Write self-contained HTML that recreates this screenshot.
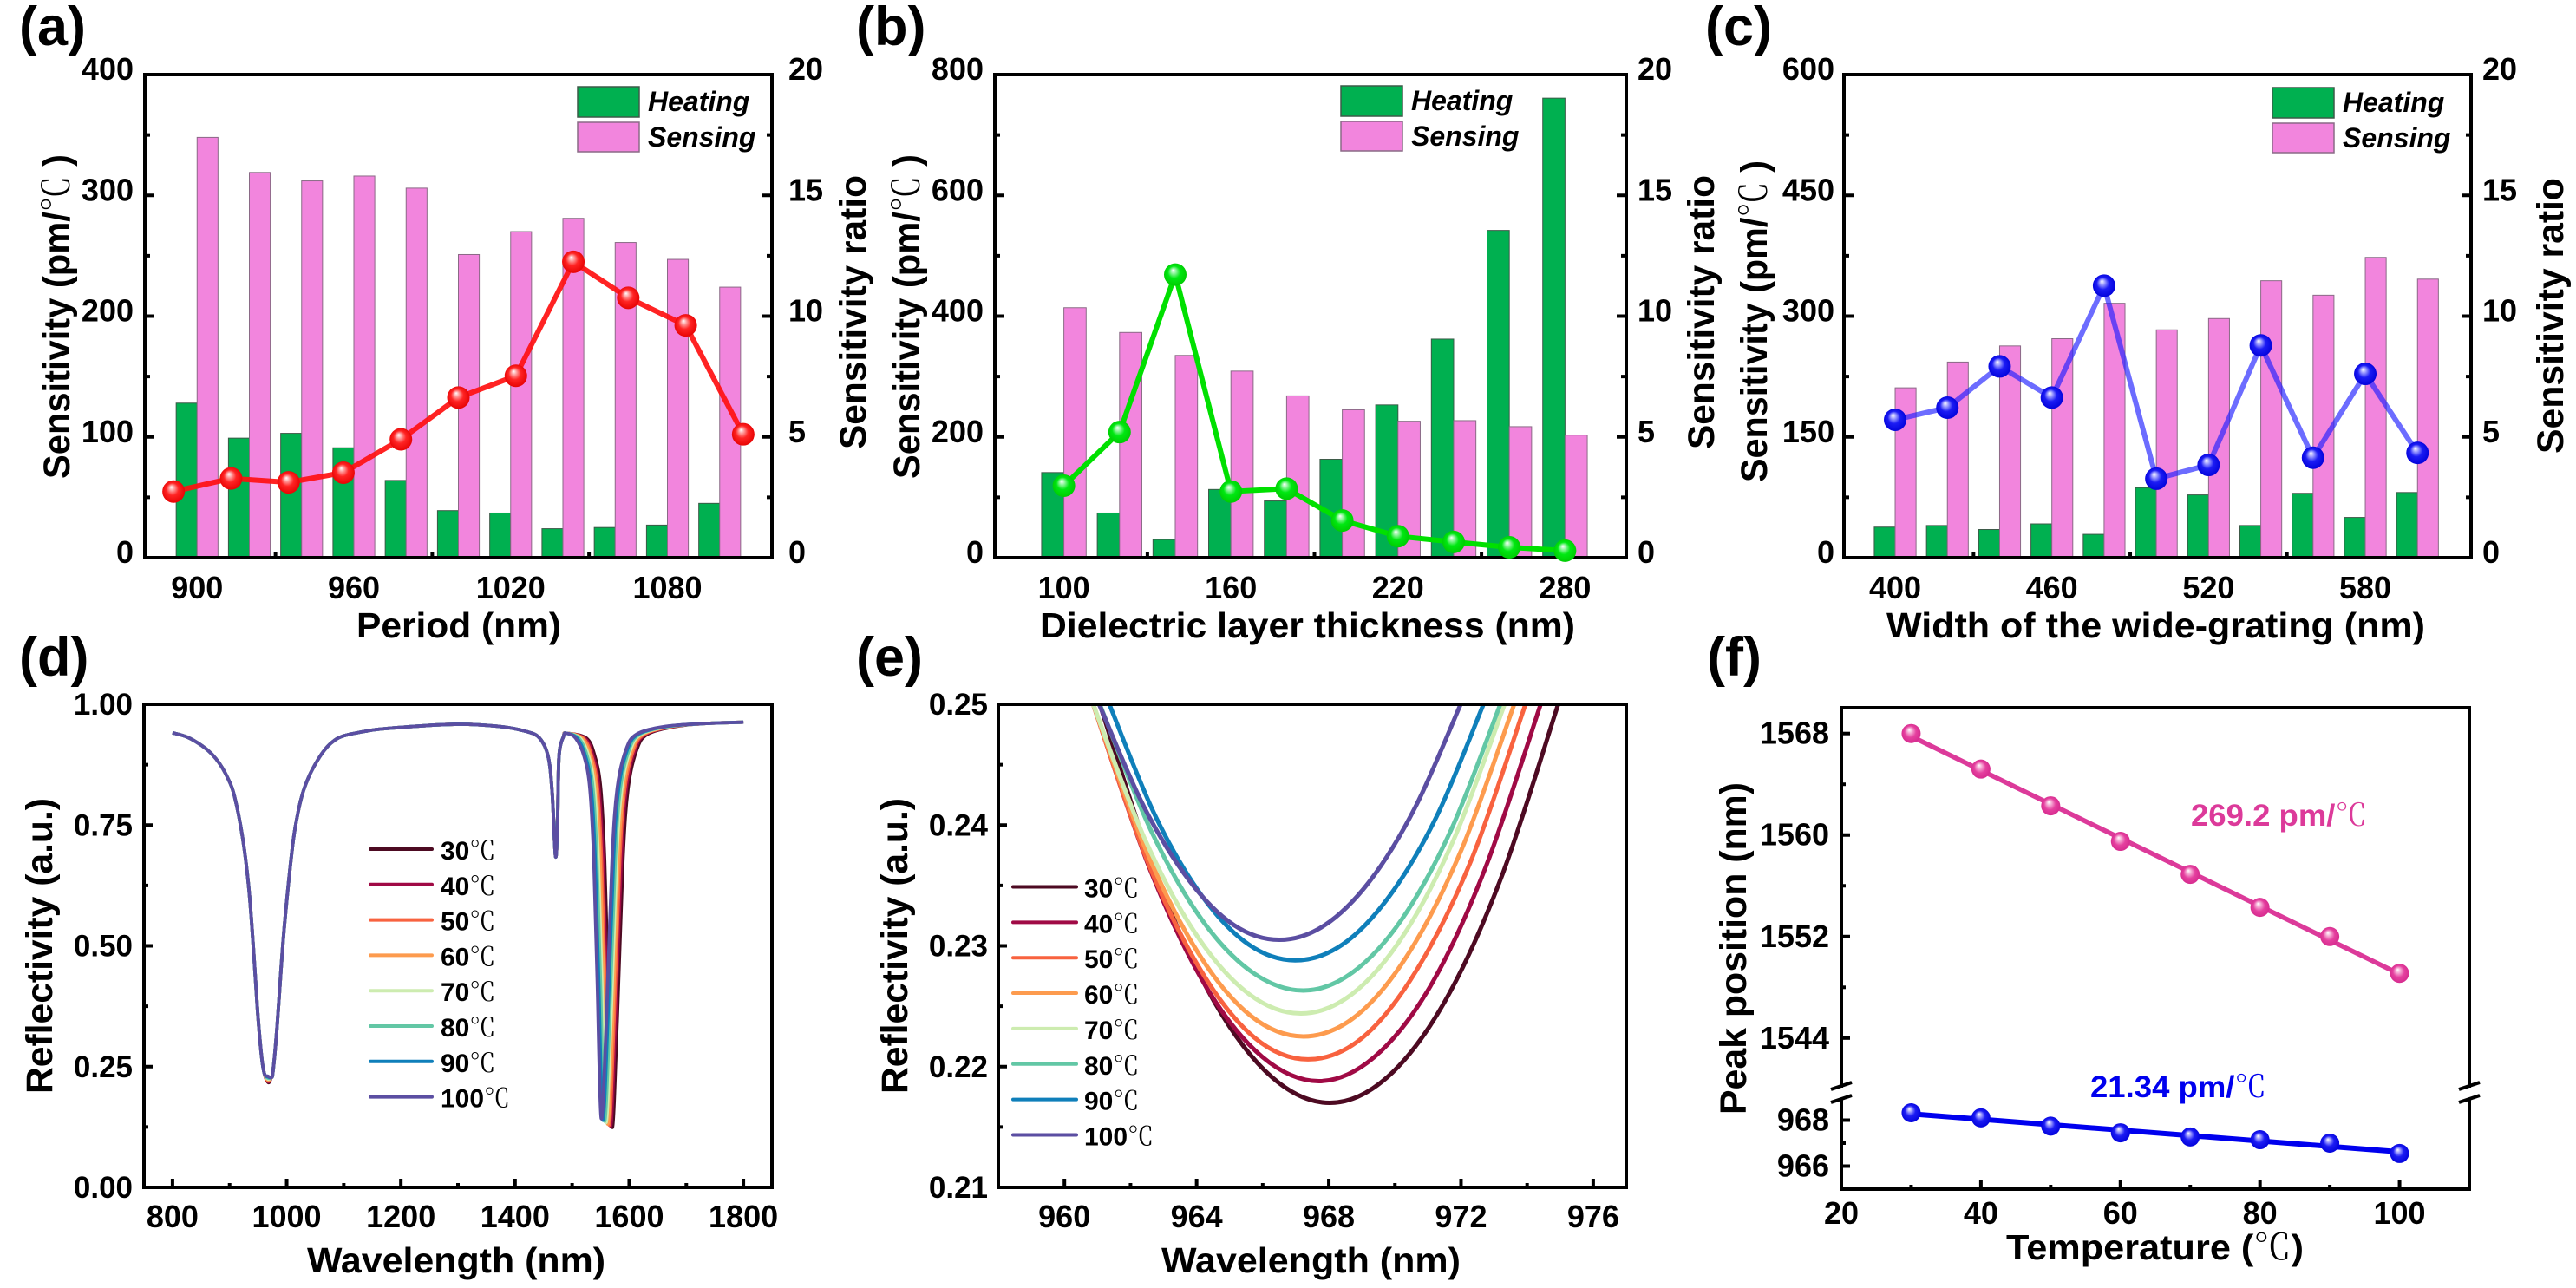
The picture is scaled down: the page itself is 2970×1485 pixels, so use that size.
<!DOCTYPE html>
<html lang="en">
<head>
<meta charset="utf-8">
<title>Sensitivity and reflectivity figure</title>
<style>
html,body{margin:0;padding:0;background:#fff;}
svg{display:block;font-family:"Liberation Sans","Noto Sans CJK SC",sans-serif;font-weight:700;fill:#000;}
.deg{font-weight:400;font-family:"Noto Serif CJK SC","Noto Sans CJK SC",serif;}
.panel-label{font-size:63px;}
.axis-title{font-size:43px;}
.x-title{font-size:41px;}
.legend-text{font-size:32px;font-style:italic;}
</style>
</head>
<body>
<svg id="figure" xmlns="http://www.w3.org/2000/svg" width="2970" height="1485" viewBox="0 0 2970 1485">
<defs>
<radialGradient id="ball-red" cx="50%" cy="50%" r="55%" fx="40%" fy="30%"><stop offset="0" stop-color="#fff"/><stop offset=".22" stop-color="#ff9a9a"/><stop offset=".5" stop-color="#ff2424"/><stop offset="1" stop-color="#e40000"/></radialGradient>
<radialGradient id="ball-green" cx="50%" cy="50%" r="55%" fx="40%" fy="30%"><stop offset="0" stop-color="#fff"/><stop offset=".22" stop-color="#8cf59a"/><stop offset=".5" stop-color="#00e812"/><stop offset="1" stop-color="#00c800"/></radialGradient>
<radialGradient id="ball-blue" cx="50%" cy="50%" r="55%" fx="40%" fy="30%"><stop offset="0" stop-color="#fff"/><stop offset=".22" stop-color="#9a9aff"/><stop offset=".5" stop-color="#1c1cf4"/><stop offset="1" stop-color="#0000d8"/></radialGradient>
<radialGradient id="ball-pink" cx="50%" cy="50%" r="55%" fx="40%" fy="30%"><stop offset="0" stop-color="#fff"/><stop offset=".25" stop-color="#f5a6d2"/><stop offset=".55" stop-color="#e5409f"/><stop offset="1" stop-color="#d4288c"/></radialGradient>
<clipPath id="clip-d"><rect x="166" y="812" width="724" height="557"/></clipPath>
<clipPath id="clip-e"><rect x="1151" y="812" width="724" height="557"/></clipPath>
</defs>

<text class="panel-label" x="22" y="52">(a)</text>
<text class="panel-label" x="987" y="52">(b)</text>
<text class="panel-label" x="1966" y="52">(c)</text>
<text class="panel-label" x="22" y="779">(d)</text>
<text class="panel-label" x="987" y="779">(e)</text>
<text class="panel-label" x="1968" y="779">(f)</text>

<text class="axis-title" transform="translate(80 552) rotate(-90)" textLength="374" lengthAdjust="spacingAndGlyphs">Sensitivity (pm/<tspan class="deg">℃ </tspan>)</text>
<text class="axis-title" transform="translate(998 518) rotate(-90)" textLength="316" lengthAdjust="spacingAndGlyphs">Sensitivity ratio</text>
<text class="x-title" x="411" y="735" textLength="236" lengthAdjust="spacingAndGlyphs">Period (nm)</text>

<text class="axis-title" transform="translate(1060 552) rotate(-90)" textLength="374" lengthAdjust="spacingAndGlyphs">Sensitivity (pm/<tspan class="deg">℃ </tspan>)</text>
<text class="axis-title" transform="translate(1976 518) rotate(-90)" textLength="316" lengthAdjust="spacingAndGlyphs">Sensitivity ratio</text>
<text class="x-title" x="1199" y="735" textLength="617" lengthAdjust="spacingAndGlyphs">Dielectric layer thickness (nm)</text>

<text class="axis-title" transform="translate(2037 556) rotate(-90)" textLength="371" lengthAdjust="spacingAndGlyphs">Sensitivity (pm/<tspan class="deg">℃ </tspan>)</text>
<text class="axis-title" transform="translate(2955 523) rotate(-90)" textLength="318" lengthAdjust="spacingAndGlyphs">Sensitivity ratio</text>
<text class="x-title" x="2175" y="735" textLength="621" lengthAdjust="spacingAndGlyphs">Width of the wide-grating (nm)</text>

<text class="axis-title" transform="translate(60 1261) rotate(-90)" textLength="341" lengthAdjust="spacingAndGlyphs">Reflectivity (a.u.)</text>
<text class="x-title" x="354" y="1467" textLength="344" lengthAdjust="spacingAndGlyphs">Wavelength (nm)</text>

<text class="axis-title" transform="translate(1046 1261) rotate(-90)" textLength="341" lengthAdjust="spacingAndGlyphs">Reflectivity (a.u.)</text>
<text class="x-title" x="1339" y="1467" textLength="345" lengthAdjust="spacingAndGlyphs">Wavelength (nm)</text>

<text class="axis-title" transform="translate(2013 1285) rotate(-90)" textLength="383" lengthAdjust="spacingAndGlyphs">Peak position (nm)</text>
<text class="x-title" x="2313" y="1452" textLength="343" lengthAdjust="spacingAndGlyphs">Temperature (<tspan class="deg">℃</tspan>)</text>
</svg>

<script>
/* ---------- panel (a) data ---------- */
const periodCategories = [900,920,940,960,980,1000,1020,1040,1060,1080,1100];
const periodHeating = [128,99,103,91,64,39,37,24,25,27,45];
const periodSensing = [348,319,312,316,306,251,270,281,261,247,224];
const periodRatioX = [891,913,935,956,978,1000,1022,1044,1065,1087,1109];
const periodRatio = [2.74,3.28,3.12,3.52,4.9,6.63,7.53,12.25,10.76,9.62,5.11];
const periodXTicks = [900,960,1020,1080];
const periodYTicks = [0,100,200,300,400];

/* ---------- panel (b) data ---------- */
const thicknessCategories = [100,120,140,160,180,200,220,240,260,280];
const thicknessHeating = [141,74,30,113,94,163,253,362,542,761];
const thicknessSensing = [414,373,335,309,268,245,226,227,217,203];
const thicknessRatio = [2.98,5.2,11.72,2.74,2.86,1.54,0.89,0.65,0.43,0.29];
const thicknessXTicks = [100,160,220,280];
const thicknessYTicks = [0,200,400,600,800];

/* ---------- panel (c) data ---------- */
const widthCategories = [400,420,440,460,480,500,520,540,560,580,600];
const widthHeating = [38,40,35,42,29,87,78,40,80,50,81];
const widthSensing = [211,243,263,272,316,283,297,344,326,373,346];
const widthRatio = [5.71,6.21,7.92,6.63,11.26,3.27,3.84,8.79,4.14,7.61,4.34];
const widthXTicks = [400,460,520,580];
const widthYTicks = [0,150,300,450,600];

const ratioTicks = [0,5,10,15,20];

/* ---------- temperature legend ---------- */
const temperatureLabels = ['30','40','50','60','70','80','90','100'];
const temperatureColors = ['#4d0a22','#a00a45','#f8623f','#fd9b4e','#cdecb0','#62c7a5','#0f7fba','#5b4ea2'];

/* ---------- panel (d) data ---------- */
const spectrumLeftWl = [800,826,852,868,882,896,908,923,934,942,949,956,961];
const spectrumLeftR = [.941,.932,.914,.898,.878,.849,.812,.722,.615,.49,.365,.271,.235];
const spectrumRightWl = [973,976,983,990,997,1010,1018,1027,1038,1050,1064,1079,1098,1137,1176,1293,1370,1419,1443,1458,1465,1471,1474.5,1477,1485,1490];
const spectrumRightR = [.228,.24,.33,.45,.555,.704,.765,.812,.848,.876,.902,.921,.934,.944,.95,.9586,.9545,.944,.93,.892,.818,.685,.76,.892,.934,.94];
const firstDipWl = [968,967.7,967.4,967.2,967.2,967.2,967,966.5];
const firstDipMin = [.217,.2188,.2206,.2225,.2244,.2263,.2288,.2305];
const secondDipWl = [1570,1567,1564.5,1562,1559,1556.5,1553.5,1551];
const secondDipMin = [.125,.128,.13,.132,.135,.138,.14,.143];
const secondDipOffsets = [-45,-30,-20,-13,-7,9,19,28,43,62,111];
const secondDipR = [.93,.892,.826,.677,.429,.346,.677,.826,.905,.938,.954];
const spectrumTailWl = [1730,1800];
const spectrumTailR = [.96,.963];
const spectrumXTicks = [800,1000,1200,1400,1600,1800];
const spectrumYTicks = ['0.00','0.25','0.50','0.75','1.00'];

/* ---------- panel (e) data ---------- */
const zoomWl30 = [961.07,962.81,964.55,966.29,968.03,969.76,971.49,973.21,974.94];
const zoomR30 = [.25,.2356,.2253,.2191,.2170,.2191,.2253,.2356,.25];
const zoomWl40 = [960.87,962.58,964.29,965.99,967.7,969.38,971.06,972.73,974.41];
const zoomR40 = [.25,.2364,.2266,.2208,.2188,.2208,.2266,.2364,.25];
const zoomWl50 = [960.87,962.5,964.12,965.75,967.37,969.02,970.66,972.31,973.95];
const zoomR50 = [.25,.2371,.2280,.2224,.2206,.2224,.2280,.2371,.25];
const zoomWl60 = [960.87,962.46,964.05,965.64,967.23,968.83,970.42,972.02,973.61];
const zoomR60 = [.25,.2380,.2294,.2242,.2225,.2242,.2294,.2380,.25];
const zoomWl70 = [960.87,962.44,964.02,965.59,967.16,968.7,970.24,971.78,973.32];
const zoomR70 = [.25,.2388,.2308,.2260,.2244,.2260,.2308,.2388,.25];
const zoomWl80 = [961.07,962.61,964.15,965.69,967.23,968.72,970.21,971.7,973.19];
const zoomR80 = [.25,.2396,.2322,.2278,.2263,.2278,.2322,.2396,.25];
const zoomWl90 = [961.36,962.76,964.17,965.58,966.98,968.41,969.83,971.26,972.68];
const zoomR90 = [.25,.2407,.2341,.2301,.2288,.2301,.2341,.2407,.25];
const zoomWl100 = [961.05,962.41,963.78,965.14,966.5,967.87,969.25,970.62,971.99];
const zoomR100 = [.25,.2415,.2354,.2317,.2305,.2317,.2354,.2415,.25];
const zoomXTicks = [960,964,968,972,976];
const zoomYTicks = ['0.21','0.22','0.23','0.24','0.25'];

/* ---------- panel (f) data ---------- */
const peakTemperatures = [30,40,50,60,70,80,90,100];
const peakLong = [1568,1565.2,1562.3,1559.5,1556.9,1554.3,1552,1549.1];
const peakShort = [968.32,968.1,967.74,967.45,967.27,967.15,967,966.55];
const peakXTicks = [20,40,60,80,100];
const peakUpperTicks = [1544,1552,1560,1568];
const peakLowerTicks = [966,968];

/* ---------- helpers ---------- */
const NS = 'http://www.w3.org/2000/svg';
const root = document.getElementById('figure');
function el(parent, tag, attrs, text) {
  const n = document.createElementNS(NS, tag);
  for (const k in attrs) n.setAttribute(k, attrs[k]);
  if (text !== undefined) n.textContent = text;
  parent.appendChild(n);
  return n;
}
function group(name) {
  const g = el(root, 'g', {});
  
  
  return g;
}
function tick(parent, x1, y1, x2, y2, name) {
  const t = el(parent, 'line', {x1, y1, x2, y2, stroke:'#000', 'stroke-width':4});
  
  
}
function label(parent, x, y, text, anchor, size, name) {
  const t = el(parent, 'text', {x, y, 'text-anchor':anchor, 'font-size':size}, text);
  
  
  return t;
}
function frame(parent, x0, y0, x1, y1) {
  const r = el(parent, 'rect', {x:x0, y:y0, width:x1-x0, height:y1-y0, fill:'none', stroke:'#000', 'stroke-width':4});
  
  
}
function smoothPath(pts) {
  let d = 'M' + pts[0][0].toFixed(2) + ' ' + pts[0][1].toFixed(2);
  for (let i = 0; i < pts.length - 1; i++) {
    const p0 = pts[Math.max(i-1,0)], p1 = pts[i], p2 = pts[i+1], p3 = pts[Math.min(i+2,pts.length-1)];
    const c1x = p1[0] + (p2[0]-p0[0])/6, c1y = p1[1] + (p2[1]-p0[1])/6;
    const c2x = p2[0] - (p3[0]-p1[0])/6, c2y = p2[1] - (p3[1]-p1[1])/6;
    d += 'C' + c1x.toFixed(2) + ' ' + c1y.toFixed(2) + ' ' + c2x.toFixed(2) + ' ' + c2y.toFixed(2) + ' ' + p2[0].toFixed(2) + ' ' + p2[1].toFixed(2);
  }
  return d;
}

/* ---------- bar + ratio panels (a, b, c) ---------- */
function drawBarPanel(c) {
  const g = group(c.name);
  const top = 86, bottom = 643, barWidth = 8;
  const xScale = v => c.x0 + (v - c.xMin) / (c.xMax - c.xMin) * (c.x1 - c.x0);
  const yLeft = v => bottom - v / c.yMax * (bottom - top);
  const yRight = v => bottom - v / 20 * (bottom - top);

  c.yTicks.forEach((v, i) => {
    const y = yLeft(v);
    tick(g, c.x0, y, c.x0 + 11, y, 'y-tick');
    if (i < c.yTicks.length - 1) {
      const ym = (y + yLeft(c.yTicks[i+1])) / 2;
      tick(g, c.x0, ym, c.x0 + 6, ym, 'y-minor-tick');
    }
    label(g, c.leftEdge, y + 6, String(v), 'end', 36, 'y-tick-label');
  });
  ratioTicks.forEach((v, i) => {
    const y = yRight(v);
    tick(g, c.x1 - 11, y, c.x1, y, 'y2-tick');
    if (i < ratioTicks.length - 1) {
      const ym = (y + yRight(ratioTicks[i+1])) / 2;
      tick(g, c.x1 - 6, ym, c.x1, ym, 'y2-minor-tick');
    }
    label(g, c.rightEdge, y + 6, String(v), 'start', 36, 'y2-tick-label');
  });
  c.xTicks.forEach((v, i) => {
    const x = xScale(v);
    tick(g, x, bottom, x, bottom - 11, 'x-tick');
    if (i < c.xTicks.length - 1) {
      const xm = (x + xScale(c.xTicks[i+1])) / 2;
      tick(g, xm, bottom, xm, bottom - 6, 'x-minor-tick');
    }
    label(g, x, 690, String(v), 'middle', 36, 'x-tick-label');
  });

  c.categories.forEach((cat, i) => {
    const xc = xScale(cat);
    const w = xScale(cat + barWidth) - xc;
    const h = el(g, 'rect', {x:xc - w, y:yLeft(c.heating[i]), width:w, height:bottom - yLeft(c.heating[i]), fill:'#00b050', stroke:'#3c5a48', 'stroke-width':1});
    
    
    const s = el(g, 'rect', {x:xc, y:yLeft(c.sensing[i]), width:w, height:bottom - yLeft(c.sensing[i]), fill:'#f285dd', stroke:'#8a6a86', 'stroke-width':1});
    
    
  });

  frame(g, c.x0, top, c.x1, bottom);

  const pts = c.ratioX.map((v, i) => xScale(v).toFixed(2) + ',' + yRight(c.ratio[i]).toFixed(2)).join(' ');
  const line = el(g, 'polyline', {points:pts, fill:'none', stroke:c.lineColor, 'stroke-width':6, 'stroke-opacity':c.lineOpacity, 'stroke-linejoin':'round'});
  
  
  c.ratioX.forEach((v, i) => {
    const m = el(g, 'circle', {cx:xScale(v), cy:yRight(c.ratio[i]), r:13, fill:'url(#' + c.ball + ')'});
    
    
  });

  const lg = el(g, 'g', {});
  
  
  const s1 = el(lg, 'rect', {x:c.legendX, y:c.legendY, width:71, height:35, fill:'#00b050', stroke:'#3c5a48', 'stroke-width':1.5});
  
  
  const s2 = el(lg, 'rect', {x:c.legendX, y:c.legendY + 41, width:71, height:34, fill:'#f285dd', stroke:'#8a6a86', 'stroke-width':1.5});
  
  
  const t1 = el(lg, 'text', {x:c.legendX + 81, y:c.legendY + 28, class:'legend-text'}, 'Heating');
  
  
  const t2 = el(lg, 'text', {x:c.legendX + 81, y:c.legendY + 69, class:'legend-text'}, 'Sensing');
  
  
}

drawBarPanel({name:'panel-a', x0:167, x1:890, xMin:880, xMax:1120, yMax:400, leftEdge:154, rightEdge:909,
  categories:periodCategories, heating:periodHeating, sensing:periodSensing, ratioX:periodRatioX, ratio:periodRatio,
  xTicks:periodXTicks, yTicks:periodYTicks, lineColor:'#ff1010', lineOpacity:.92, ball:'ball-red', legendX:666, legendY:100});
drawBarPanel({name:'panel-b', x0:1147, x1:1875, xMin:75.2, xMax:302, yMax:800, leftEdge:1134, rightEdge:1888,
  categories:thicknessCategories, heating:thicknessHeating, sensing:thicknessSensing, ratioX:thicknessCategories, ratio:thicknessRatio,
  xTicks:thicknessXTicks, yTicks:thicknessYTicks, lineColor:'#00e000', lineOpacity:1, ball:'ball-green', legendX:1546, legendY:99});
drawBarPanel({name:'panel-c', x0:2126, x1:2849, xMin:380.4, xMax:620.5, yMax:600, leftEdge:2115, rightEdge:2862,
  categories:widthCategories, heating:widthHeating, sensing:widthSensing, ratioX:widthCategories, ratio:widthRatio,
  xTicks:widthXTicks, yTicks:widthYTicks, lineColor:'#2020ff', lineOpacity:.66, ball:'ball-blue', legendX:2620, legendY:101});

/* ---------- shared frame for line panels ---------- */
function lineAxes(g, x0, x1, xScale, yScale, xTicks, yTicks, edge) {
  yTicks.forEach((v, i) => {
    const y = yScale(parseFloat(v));
    tick(g, x0, y, x0 + 10, y, 'y-tick');
    if (i < yTicks.length - 1) {
      const ym = (y + yScale(parseFloat(yTicks[i+1]))) / 2;
      tick(g, x0, ym, x0 + 5, ym, 'y-minor-tick');
    }
    label(g, edge, y + 12, v, 'end', 35, 'y-tick-label');
  });
  xTicks.forEach((v, i) => {
    const x = xScale(v);
    tick(g, x, 1369, x, 1359, 'x-tick');
    if (i < xTicks.length - 1) {
      const xm = (x + xScale(xTicks[i+1])) / 2;
      tick(g, xm, 1369, xm, 1364, 'x-minor-tick');
    }
    label(g, x, 1415, String(v), 'middle', 36, 'x-tick-label');
  });
}
function tempLegend(g, lineX0, lineX1, textX, firstY, stepY, size) {
  temperatureLabels.forEach((t, i) => {
    const y = firstY + i * stepY;
    const l = el(g, 'line', {x1:lineX0, x2:lineX1, y1:y, y2:y, stroke:temperatureColors[i], 'stroke-width':4, 'stroke-linecap':'round'});
    
    
    const n = el(g, 'text', {x:textX, y:y + 12, 'font-size':size}, t);
    
    
    const u = el(n, 'tspan', {class:'deg'}, '℃');
    
    
  });
}

/* ---------- panel (d) ---------- */
(function () {
  const g = group('panel-d');
  const xs = v => 166 + (v - 750) / 1100 * 724;
  const ys = v => 1369 - v * 557;
  lineAxes(g, 166, 890, xs, ys, spectrumXTicks, spectrumYTicks, 153);
  const plot = el(g, 'g', {'clip-path':'url(#clip-d)'});
  
  
  temperatureColors.forEach((color, i) => {
    const pts = [];
    spectrumLeftWl.forEach((w, k) => pts.push([xs(w), ys(spectrumLeftR[k])]));
    pts.push([xs(firstDipWl[i]), ys(firstDipMin[i])]);
    spectrumRightWl.forEach((w, k) => pts.push([xs(w), ys(spectrumRightR[k])]));
    secondDipOffsets.forEach((o, k) => {
      if (k === 5) pts.push([xs(secondDipWl[i]), ys(secondDipMin[i])]);
      pts.push([xs(secondDipWl[i] + o), ys(secondDipR[k])]);
    });
    spectrumTailWl.forEach((w, k) => pts.push([xs(w), ys(spectrumTailR[k])]));
    const c = el(plot, 'path', {d:smoothPath(pts), fill:'none', stroke:color, 'stroke-width':3.8, 'stroke-linejoin':'round'});
    
    
  });
  frame(g, 166, 812, 890, 1369);
  tempLegend(g, 427, 498, 508, 979, 40.8, 30);
})();

/* ---------- panel (e) ---------- */
(function () {
  const g = group('panel-e');
  const xs = v => 1151 + (v - 958) / 19 * 724;
  const ys = v => 1369 - (v - .21) / .04 * 557;
  lineAxes(g, 1151, 1875, xs, ys, zoomXTicks, zoomYTicks, 1139);
  const plot = el(g, 'g', {'clip-path':'url(#clip-e)'});
  
  
  const wls = [zoomWl30,zoomWl40,zoomWl50,zoomWl60,zoomWl70,zoomWl80,zoomWl90,zoomWl100];
  const rs = [zoomR30,zoomR40,zoomR50,zoomR60,zoomR70,zoomR80,zoomR90,zoomR100];
  wls.forEach((wl, i) => {
    const pts = wl.map((w, k) => [xs(w), ys(rs[i][k])]);
    const c = el(plot, 'path', {d:smoothPath(pts), fill:'none', stroke:temperatureColors[i], 'stroke-width':5});
    
    
  });
  frame(g, 1151, 812, 1875, 1369);
  tempLegend(g, 1168, 1241, 1250, 1022.5, 40.85, 30);
})();

/* ---------- panel (f) ---------- */
function linearFit(xv, yv) {
  const n = xv.length;
  const mx = xv.reduce((a, b) => a + b, 0) / n;
  const my = yv.reduce((a, b) => a + b, 0) / n;
  let num = 0, den = 0;
  xv.forEach((x, i) => { num += (x - mx) * (yv[i] - my); den += (x - mx) * (x - mx); });
  const m = num / den;
  return x => my + m * (x - mx);
}
(function () {
  const g = group('panel-f');
  const x0 = 2123, x1 = 2847, top = 816, bottom = 1371;
  const xs = v => x0 + (v - 20) / 90 * (x1 - x0);
  const yUp = v => 845.7 + (1568 - v) * 14.63;
  const yLow = v => 1291.5 + (968 - v) * 26.5;

  peakUpperTicks.forEach((v, i) => {
    const y = yUp(v);
    tick(g, x0, y, x0 + 10, y, 'y-tick');
    if (i < peakUpperTicks.length - 1) {
      const ym = (y + yUp(peakUpperTicks[i+1])) / 2;
      tick(g, x0, ym, x0 + 5, ym, 'y-minor-tick');
    }
    label(g, 2109, y + 12, String(v), 'end', 36, 'y-tick-label');
  });
  peakLowerTicks.forEach((v, i) => {
    const y = yLow(v);
    tick(g, x0, y, x0 + 10, y, 'y-tick');
    if (i < peakLowerTicks.length - 1) {
      const ym = (y + yLow(peakLowerTicks[i+1])) / 2;
      tick(g, x0, ym, x0 + 5, ym, 'y-minor-tick');
    }
    label(g, 2109, y + 12, String(v), 'end', 36, 'y-tick-label');
  });
  peakXTicks.forEach((v, i) => {
    const x = xs(v);
    tick(g, x, bottom, x, bottom - 10, 'x-tick');
    if (i < peakXTicks.length - 1) {
      const xm = (x + xs(peakXTicks[i+1])) / 2;
      tick(g, xm, bottom, xm, bottom - 5, 'x-minor-tick');
    }
    label(g, x, 1411, String(v), 'middle', 36, 'x-tick-label');
  });
  frame(g, x0, top, x1, bottom);

  [x0, x1].forEach(x => {
    const w = el(g, 'rect', {x:x - 4, y:1254, width:8, height:13, fill:'#fff'});
    
    
    const s1 = el(g, 'line', {x1:x - 12, y1:1256, x2:x + 12, y2:1248, stroke:'#000', 'stroke-width':4});
    
    
    const s2 = el(g, 'line', {x1:x - 12, y1:1271, x2:x + 12, y2:1263, stroke:'#000', 'stroke-width':4});
    
    
  });

  const first = peakTemperatures[0], last = peakTemperatures[peakTemperatures.length - 1];
  const fitLong = linearFit(peakTemperatures, peakLong);
  const lineLong = el(g, 'line', {x1:xs(first), y1:yUp(fitLong(first)), x2:xs(last), y2:yUp(fitLong(last)), stroke:'#dc3a9a', 'stroke-width':5.5});
  
  
  const fitShort = linearFit(peakTemperatures, peakShort);
  const lineShort = el(g, 'line', {x1:xs(first), y1:yLow(fitShort(first)), x2:xs(last), y2:yLow(fitShort(last)), stroke:'#0000ee', 'stroke-width':6});
  
  

  peakTemperatures.forEach((t, i) => {
    const a = el(g, 'circle', {cx:xs(t), cy:yUp(peakLong[i]), r:11, fill:'url(#ball-pink)'});
    
    
    const b = el(g, 'circle', {cx:xs(t), cy:yLow(peakShort[i]), r:11, fill:'url(#ball-blue)'});
    
    
  });

  const note1 = el(g, 'text', {x:2526, y:952, 'font-size':35, fill:'#dc3a9a', textLength:203, lengthAdjust:'spacingAndGlyphs'}, '269.2 pm/');
  
  
  el(note1, 'tspan', {class:'deg'}, '℃');
  const note2 = el(g, 'text', {x:2410, y:1265, 'font-size':35, fill:'#0000ee', textLength:203, lengthAdjust:'spacingAndGlyphs'}, '21.34 pm/');
  
  
  el(note2, 'tspan', {class:'deg'}, '℃');
})();
</script>
</body>
</html>
